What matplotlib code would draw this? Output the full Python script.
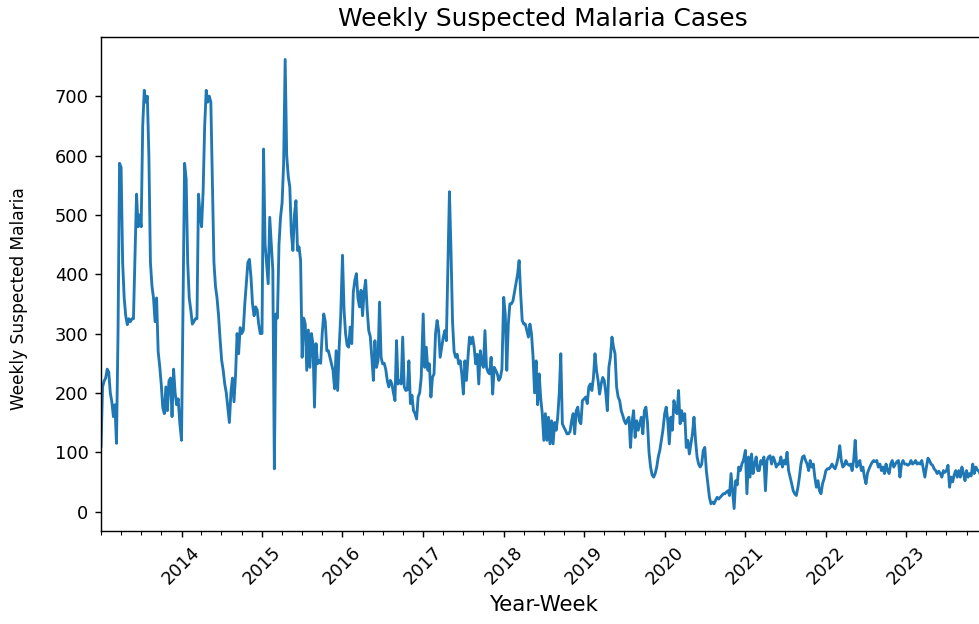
import pandas as pd
import matplotlib
matplotlib.use('Agg')
import matplotlib.pyplot as plt
import matplotlib.dates as mdates

# weekly suspected malaria cases, 52 weeks per year
cases_2013 = [110, 210, 220, 225, 240, 235, 200, 185, 160, 180, 115, 300, 587, 580, 420, 360, 330, 315,
              325, 320, 325, 325, 430, 535, 480, 500, 480, 650, 710, 690, 700, 600, 420, 380, 360, 320,
              360, 270, 245, 215, 175, 165, 210, 170, 220, 225, 160, 240, 200, 180, 190, 150]
cases_2014 = [120, 350, 587, 560, 420, 360, 340, 316, 320, 325, 325, 535, 500, 480, 540, 650, 710, 690,
              700, 690, 550, 420, 380, 360, 330, 290, 255, 238, 215, 200, 175, 150, 200, 225, 185, 230,
              300, 266, 310, 300, 305, 350, 385, 420, 425, 395, 350, 330, 345, 340, 316, 300]
cases_2015 = [300, 611, 450, 418, 384, 496, 451, 407, 72, 333, 326, 450, 496, 520, 586, 762, 600, 565,
              547, 470, 440, 500, 524, 440, 446, 423, 260, 326, 316, 238, 306, 243, 300, 283, 176, 283,
              249, 254, 250, 300, 333, 320, 271, 271, 260, 249, 238, 207, 271, 204, 277, 330]
cases_2016 = [432, 340, 300, 280, 277, 311, 283, 370, 390, 401, 360, 345, 373, 330, 370, 390, 340, 305,
              295, 260, 221, 288, 243, 254, 353, 260, 249, 250, 240, 221, 210, 221, 215, 200, 187, 288,
              215, 221, 215, 294, 210, 204, 205, 254, 182, 196, 170, 165, 156, 193, 200, 226]
cases_2017 = [333, 243, 277, 238, 249, 193, 226, 232, 300, 322, 305, 260, 277, 294, 305, 288, 418, 539,
              440, 320, 270, 260, 265, 249, 254, 232, 198, 254, 221, 260, 294, 283, 294, 277, 249, 265,
              215, 271, 250, 243, 305, 243, 235, 232, 260, 198, 243, 238, 232, 221, 226, 240]
cases_2018 = [361, 333, 238, 316, 350, 350, 355, 370, 384, 400, 423, 367, 322, 316, 316, 305, 294, 316,
              300, 262, 200, 254, 180, 232, 190, 165, 120, 165, 120, 159, 114, 153, 114, 150, 137, 159,
              200, 266, 148, 142, 137, 131, 131, 135, 153, 165, 131, 170, 176, 153, 148, 187]
cases_2019 = [190, 193, 182, 210, 215, 204, 226, 266, 238, 221, 198, 215, 226, 221, 200, 170, 243, 260,
              294, 277, 266, 210, 193, 187, 170, 162, 153, 148, 155, 159, 108, 150, 170, 125, 153, 137,
              148, 159, 131, 170, 176, 150, 100, 75, 62, 58, 64, 75, 92, 103, 120, 137]
cases_2020 = [165, 176, 153, 114, 159, 137, 187, 170, 165, 204, 148, 170, 153, 165, 108, 120, 97, 114,
              131, 159, 120, 92, 80, 75, 80, 103, 108, 69, 47, 24, 13, 16, 13, 19, 24, 21,
              24, 27, 30, 30, 33, 35, 27, 64, 35, 5, 52, 45, 75, 69, 80, 86]
cases_2021 = [103, 30, 92, 58, 97, 64, 80, 92, 69, 69, 86, 80, 92, 35, 86, 92, 94, 80,
              92, 86, 75, 80, 80, 92, 75, 86, 80, 100, 69, 58, 47, 35, 30, 27, 40, 58,
              80, 92, 94, 86, 80, 69, 86, 75, 80, 58, 41, 52, 35, 30, 47, 55]
cases_2022 = [69, 72, 72, 75, 80, 75, 72, 80, 92, 111, 86, 75, 78, 86, 80, 78, 80, 69,
              86, 120, 75, 80, 86, 69, 75, 58, 47, 65, 72, 78, 83, 86, 84, 86, 75, 80,
              69, 75, 64, 80, 69, 64, 80, 86, 75, 80, 84, 86, 58, 80, 86, 80]
cases_2023 = [80, 78, 80, 86, 80, 82, 86, 80, 82, 80, 86, 72, 58, 75, 90, 86, 80, 78,
              72, 69, 64, 68, 64, 58, 69, 66, 69, 78, 41, 58, 50, 62, 69, 58, 69, 58,
              75, 64, 52, 69, 58, 64, 60, 80, 64, 75, 70, 68, 62, 72, 65, 70]

years = [2013, 2014, 2015, 2016, 2017, 2018, 2019, 2020, 2021, 2022, 2023]
yearly = [cases_2013, cases_2014, cases_2015, cases_2016, cases_2017, cases_2018,
          cases_2019, cases_2020, cases_2021, cases_2022, cases_2023]

dates = []
values = []
for yr, vals in zip(years, yearly):
    dates.extend(pd.date_range(f'{yr}-01-01', periods=len(vals), freq='7D'))
    values.extend(vals)
df = pd.DataFrame({'date': dates, 'cases': values})

fig = plt.figure(figsize=(979 / 128, 624 / 128), dpi=128)
# axes runs a little past the right edge of the picture, like the original crop
ax = fig.add_axes([0.1032, 0.149, 0.903, 0.7917])
ax.plot(df['date'], df['cases'], color='#1f77b4', linewidth=1.6)

ax.set_xlim(df['date'].iloc[0], df['date'].iloc[-1])
ax.set_xticks([pd.Timestamp(f'{y}-01-01') for y in years[1:]])
ax.xaxis.set_major_formatter(mdates.DateFormatter('%Y'))
ax.xaxis.set_minor_locator(mdates.MonthLocator(bymonth=(1, 4, 7, 10)))
plt.setp(ax.get_xticklabels(), rotation=45)

ax.set_title('Weekly Suspected Malaria Cases', fontsize=14, pad=6)
ax.set_xlabel('Year-Week', fontsize=12)
ax.set_ylabel('Weekly Suspected Malaria', fontsize=9.6)
ax.yaxis.set_label_coords(-0.083, 0.47)

fig.savefig('out.png', dpi=128)
